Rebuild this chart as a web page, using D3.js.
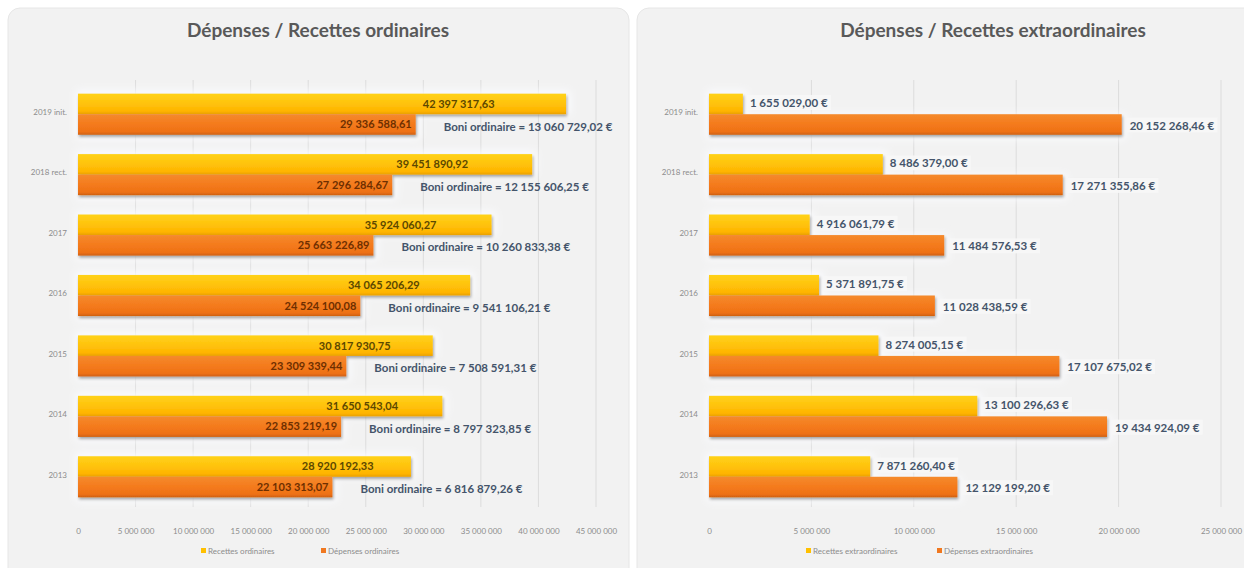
<!DOCTYPE html>
<html><head><meta charset="utf-8">
<script src="https://cdn.jsdelivr.net/npm/d3@7"></script>
<style>body{margin:0;background:#fff;} svg{display:block;}</style>
</head><body>
<svg id="chart" width="1244" height="568"></svg>
<script>
// ---- DATA ----
const categories = ["2019 init.", "2018 rect.", "2017", "2016", "2015", "2014", "2013"];
const recettesOrd = [42397317.63, 39451890.92, 35924060.27, 34065206.29, 30817930.75, 31650543.04, 28920192.33];
const depensesOrd = [29336588.61, 27296284.67, 25663226.89, 24524100.08, 23309339.44, 22853219.19, 22103313.07];
const boniOrd = [13060729.02, 12155606.25, 10260833.38, 9541106.21, 7508591.31, 8797323.85, 6816879.26];
const recettesExtra = [1655029.00, 8486379.00, 4916061.79, 5371891.75, 8274005.15, 13100296.63, 7871260.40];
const depensesExtra = [20152268.46, 17271355.86, 11484576.53, 11028438.59, 17107675.02, 19434924.09, 12129199.20];
const ticksOrd = [0, 5e6, 10e6, 15e6, 20e6, 25e6, 30e6, 35e6, 40e6, 45e6];
const ticksExtra = [0, 5e6, 10e6, 15e6, 20e6, 25e6];
const titles = ["Dépenses / Recettes ordinaires", "Dépenses / Recettes extraordinaires"];
const legendOrd = ["Recettes ordinaires", "Dépenses  ordinaires"];
const legendExtra = ["Recettes extraordinaires", "Dépenses extraordinaires"];

const fr = d3.formatLocale({decimal: ",", thousands: "\u00a0", grouping: [3], currency: ["", " €"]});
const fmtTick = fr.format(",d");
const fmt2 = fr.format(",.2f");

const svg = d3.select("#chart");
const defs = svg.append("defs");
function grad(id, stops) {
  const g = defs.append("linearGradient").attr("id", id).attr("x1", 0).attr("y1", 0).attr("x2", 0).attr("y2", 1);
  stops.forEach(s => g.append("stop").attr("offset", s[0]).attr("stop-color", s[1]));
}
grad("gY", [[0, "#ffd21a"], [0.5, "#ffc20c"], [0.85, "#ffb400"], [1, "#e9a000"]]);
grad("gO", [[0, "#f58a2c"], [0.5, "#f47a1c"], [0.85, "#ee7116"], [1, "#cf6010"]]);
const f = defs.append("filter").attr("id", "sh").attr("x", "-10%").attr("y", "-40%").attr("width", "120%").attr("height", "180%");
f.append("feGaussianBlur").attr("in", "SourceAlpha").attr("stdDeviation", 1.5).attr("result", "b");
f.append("feOffset").attr("in", "b").attr("dx", 1).attr("dy", 2).attr("result", "o");
f.append("feComponentTransfer").attr("in", "o").attr("result", "o2")
  .append("feFuncA").attr("type", "linear").attr("slope", 0.35);
const m = f.append("feMerge");
m.append("feMergeNode").attr("in", "o2");
m.append("feMergeNode").attr("in", "SourceGraphic");
const glow = defs.append("filter").attr("id", "glow").attr("x", "-20%").attr("y", "-50%").attr("width", "140%").attr("height", "200%");
glow.append("feGaussianBlur").attr("stdDeviation", 4);

const FONT = "Lato, 'Open Sans', sans-serif";

function panel(cfg) {
  const g = svg.append("g");
  g.append("rect").attr("x", cfg.px).attr("y", 8).attr("width", cfg.pw).attr("height", 600)
    .attr("rx", 12).attr("fill", "#f2f2f2").attr("stroke", "#e6e6e6");
  g.append("text").attr("x", cfg.tx).attr("y", 37).attr("text-anchor", "middle")
    .attr("font-family", FONT).attr("font-weight", 700).attr("font-size", 19)
    .attr("fill", "#595959").text(cfg.title);

  const x = d3.scaleLinear().domain(cfg.domain).range(cfg.xr);
  const y0 = d3.scaleBand().domain(categories).range([84, 507]).paddingInner(0.32).paddingOuter(0.16);
  const y1 = d3.scaleBand().domain(["r", "d"]).range([0, y0.bandwidth()]);

  // grid
  g.append("g").selectAll("line").data(cfg.ticks.slice(1)).join("line")
    .attr("x1", d => x(d)).attr("x2", d => x(d)).attr("y1", 80).attr("y2", 507)
    .attr("stroke", "#dcdcdc").attr("stroke-width", 1);

  // soft glow behind bars
  const gl = g.append("g").attr("filter", "url(#glow)");
  categories.forEach((c, i) => {
    gl.append("rect").attr("x", x(0) - 2).attr("y", y0(c) - 3)
      .attr("width", x(cfg.rec[i]) - x(0) + 6).attr("height", y1.bandwidth() + 3).attr("fill", "#fbfcff");
    gl.append("rect").attr("x", x(0) - 2).attr("y", y0(c) + y1("d"))
      .attr("width", x(cfg.dep[i]) - x(0) + 6).attr("height", y1.bandwidth() + 4).attr("fill", "#fbfcff");
  });

  // axis labels
  const ax = g.append("g").attr("transform", "translate(0,525)")
    .call(d3.axisBottom(x).tickValues(cfg.ticks).tickFormat(fmtTick).tickSize(0));
  ax.select(".domain").remove();
  ax.selectAll("text").attr("font-family", FONT).attr("font-size", 8).attr("fill", "#8c8c8c");

  const ay = g.append("g").attr("transform", `translate(${cfg.xr[0] - 8},0)`)
    .call(d3.axisLeft(y0).tickSize(0));
  ay.select(".domain").remove();
  ay.selectAll("text").attr("font-family", FONT).attr("font-size", 8).attr("fill", "#8c8c8c").attr("dy", "0.1em");

  const bars = g.append("g").attr("filter", "url(#sh)");
  bars.selectAll("rect.r").data(categories).join("rect").attr("class", "r")
    .attr("x", x(0)).attr("y", c => y0(c) + y1("r"))
    .attr("width", (c, i) => x(cfg.rec[i]) - x(0)).attr("height", y1.bandwidth())
    .attr("fill", "url(#gY)");
  bars.selectAll("rect.d").data(categories).join("rect").attr("class", "d")
    .attr("x", x(0)).attr("y", c => y0(c) + y1("d"))
    .attr("width", (c, i) => x(cfg.dep[i]) - x(0)).attr("height", y1.bandwidth())
    .attr("fill", "url(#gO)");

  cfg.labels(g, x, y0, y1);

  // legend
  const lg = g.append("g").attr("font-family", FONT).attr("font-size", 8).attr("fill", "#8c8c8c");
  cfg.legend.forEach((t, i) => {
    const lx = cfg.lx[i];
    lg.append("rect").attr("x", lx).attr("y", 548).attr("width", 5).attr("height", 5)
      .attr("fill", i === 0 ? "#ffc000" : "#f07820");
    lg.append("text").attr("x", lx + 7).attr("y", 554).text(t);
  });
}

panel({
  px: 8, pw: 621, tx: 318, title: titles[0], domain: [0, 45e6], xr: [78, 596], ticks: ticksOrd,
  rec: recettesOrd, dep: depensesOrd, legend: legendOrd, lx: [201, 321],
  labels: (g, x, y0, y1) => {
    const t = g.append("g").attr("font-family", FONT).attr("font-weight", 700).attr("font-size", 11);
    categories.forEach((c, i) => {
      t.append("text").attr("x", x(recettesOrd[i] * 0.78)).attr("y", y0(c) + y1("r") + y1.bandwidth() / 2)
        .attr("dy", "0.35em").attr("text-anchor", "middle").attr("fill", "#5c4800").text(fmt2(recettesOrd[i]));
      t.append("text").attr("x", x(depensesOrd[i]) - 4).attr("y", y0(c) + y1("d") + y1.bandwidth() / 2)
        .attr("dy", "0.35em").attr("text-anchor", "end").attr("fill", "#6e2f00").text(fmt2(depensesOrd[i]));
      t.append("text").attr("x", x(depensesOrd[i]) + 28).attr("y", y0(c) + y1("d") + y1.bandwidth() / 2 + 2)
        .attr("dy", "0.35em").attr("fill", "#44546a").attr("font-size", 11.5)
        .text("Boni ordinaire = " + fmt2(boniOrd[i]) + " €");
    });
  }
});

panel({
  px: 637, pw: 620, tx: 993, title: titles[1], domain: [0, 25e6], xr: [709, 1221], ticks: ticksExtra,
  rec: recettesExtra, dep: depensesExtra, legend: legendExtra, lx: [806, 937],
  labels: (g, x, y0, y1) => {
    const t = g.append("g").attr("font-family", FONT).attr("font-weight", 700).attr("font-size", 11.5).attr("fill", "#44546a");
    const put = (xx, yy, s) => {
      const tx = t.append("text").attr("x", xx).attr("y", yy).attr("dy", "0.35em").text(s);
      const bb = tx.node().getBBox();
      t.insert("rect", () => tx.node()).attr("x", bb.x - 3).attr("y", bb.y - 1)
        .attr("width", bb.width + 6).attr("height", bb.height + 2).attr("fill", "#f7f7f7").attr("opacity", 0.9);
    };
    categories.forEach((c, i) => {
      put(x(recettesExtra[i]) + 7, y0(c) + y1("r") + y1.bandwidth() / 2 - 1, fmt2(recettesExtra[i]) + " €");
      put(x(depensesExtra[i]) + 8, y0(c) + y1("d") + y1.bandwidth() / 2 + 1, fmt2(depensesExtra[i]) + " €");
    });
  }
});
</script>
</body></html>
